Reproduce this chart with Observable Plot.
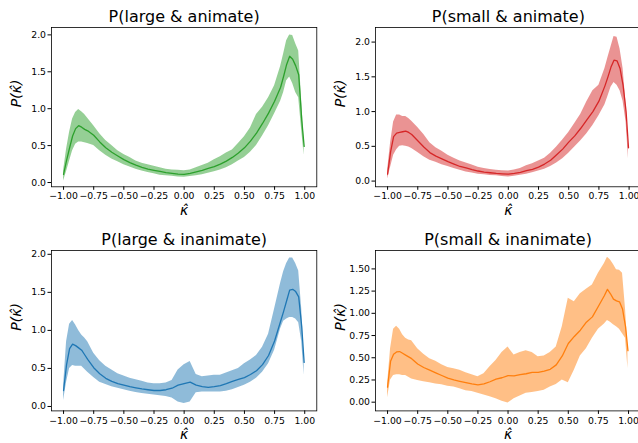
<!DOCTYPE html>
<html>
<head>
<meta charset="utf-8">
<script src="https://cdn.jsdelivr.net/npm/d3@7"></script>
<script src="https://cdn.jsdelivr.net/npm/@observablehq/plot@0.6"></script>
<style>
  html, body { margin: 0; padding: 0; background: #fff; overflow: hidden; }
  #fig { position: relative; width: 638px; height: 443px; overflow: hidden; font-family: "DejaVu Sans", sans-serif; }
  #fig svg { position: absolute; }
</style>
</head>
<body>
<div id="fig"></div>
<script>
// Evaluation grid for the estimated density of kappa-hat
const kappa = [-1, -0.975, -0.95, -0.925, -0.9, -0.875, -0.85, -0.825, -0.8, -0.75, -0.7, -0.65, -0.6, -0.55, -0.5, -0.45, -0.4, -0.35, -0.3, -0.25, -0.2, -0.15, -0.1, -0.05, 0, 0.05, 0.1, 0.15, 0.2, 0.25, 0.3, 0.35, 0.4, 0.45, 0.5, 0.55, 0.6, 0.65, 0.7, 0.75, 0.8, 0.825, 0.85, 0.875, 0.9, 0.925, 0.95, 0.975, 0.995];

// P(large & animate)
const largeAnimateMean = [0.11, 0.30, 0.47, 0.63, 0.73, 0.77, 0.75, 0.72, 0.70, 0.64, 0.55, 0.47, 0.41, 0.36, 0.31, 0.27, 0.235, 0.205, 0.18, 0.165, 0.15, 0.135, 0.125, 0.115, 0.11, 0.125, 0.145, 0.165, 0.19, 0.215, 0.25, 0.29, 0.34, 0.40, 0.47, 0.56, 0.67, 0.80, 0.94, 1.10, 1.29, 1.44, 1.60, 1.71, 1.67, 1.58, 1.46, 0.85, 0.49];
const largeAnimateHigh = [0.16, 0.45, 0.68, 0.86, 0.95, 0.99, 0.96, 0.92, 0.87, 0.77, 0.66, 0.57, 0.50, 0.43, 0.38, 0.34, 0.29, 0.26, 0.24, 0.22, 0.20, 0.18, 0.17, 0.165, 0.16, 0.17, 0.20, 0.23, 0.26, 0.31, 0.35, 0.40, 0.44, 0.53, 0.62, 0.74, 0.92, 1.02, 1.15, 1.31, 1.57, 1.74, 1.92, 2.00, 1.99, 1.88, 1.78, 1.10, 0.56];
const largeAnimateLow = [0.02, 0.15, 0.29, 0.43, 0.52, 0.55, 0.55, 0.54, 0.53, 0.50, 0.43, 0.37, 0.32, 0.28, 0.24, 0.21, 0.18, 0.155, 0.135, 0.12, 0.10, 0.09, 0.085, 0.075, 0.07, 0.08, 0.09, 0.105, 0.125, 0.145, 0.17, 0.20, 0.24, 0.29, 0.34, 0.41, 0.50, 0.63, 0.77, 0.93, 1.10, 1.22, 1.38, 1.43, 1.34, 1.22, 1.15, 0.70, 0.37];

// P(small & animate)
const smallAnimateMean = [0.10, 0.42, 0.64, 0.69, 0.70, 0.71, 0.72, 0.70, 0.67, 0.58, 0.49, 0.41, 0.36, 0.32, 0.28, 0.245, 0.21, 0.19, 0.165, 0.145, 0.13, 0.12, 0.11, 0.105, 0.10, 0.11, 0.125, 0.15, 0.17, 0.20, 0.245, 0.30, 0.38, 0.46, 0.56, 0.65, 0.76, 0.88, 1.00, 1.15, 1.37, 1.50, 1.64, 1.74, 1.73, 1.62, 1.38, 1.00, 0.48];
const smallAnimateHigh = [0.15, 0.55, 0.85, 0.95, 0.95, 0.93, 0.93, 0.90, 0.86, 0.77, 0.67, 0.55, 0.48, 0.43, 0.37, 0.33, 0.29, 0.26, 0.23, 0.20, 0.18, 0.165, 0.155, 0.15, 0.145, 0.16, 0.18, 0.22, 0.25, 0.29, 0.33, 0.40, 0.49, 0.59, 0.70, 0.83, 0.96, 1.14, 1.30, 1.38, 1.62, 1.78, 1.93, 2.08, 2.07, 1.90, 1.62, 1.10, 0.50];
const smallAnimateLow = [0.03, 0.20, 0.37, 0.45, 0.50, 0.51, 0.50, 0.49, 0.47, 0.41, 0.35, 0.30, 0.27, 0.235, 0.21, 0.18, 0.155, 0.13, 0.115, 0.10, 0.09, 0.08, 0.075, 0.065, 0.06, 0.07, 0.085, 0.10, 0.12, 0.145, 0.17, 0.21, 0.26, 0.32, 0.40, 0.49, 0.58, 0.68, 0.80, 0.94, 1.10, 1.22, 1.35, 1.42, 1.38, 1.30, 1.15, 0.85, 0.32];

// P(large & inanimate)
const largeInanimateMean = [0.21, 0.55, 0.76, 0.82, 0.80, 0.77, 0.74, 0.68, 0.62, 0.51, 0.43, 0.37, 0.33, 0.30, 0.28, 0.26, 0.245, 0.23, 0.22, 0.21, 0.21, 0.22, 0.24, 0.28, 0.30, 0.32, 0.28, 0.26, 0.25, 0.26, 0.275, 0.30, 0.33, 0.355, 0.38, 0.42, 0.47, 0.55, 0.67, 0.86, 1.12, 1.25, 1.39, 1.53, 1.54, 1.51, 1.44, 1.05, 0.58];
const largeInanimateHigh = [0.27, 0.85, 1.08, 1.13, 1.07, 1.00, 0.94, 0.90, 0.85, 0.70, 0.60, 0.53, 0.48, 0.43, 0.40, 0.37, 0.35, 0.33, 0.31, 0.30, 0.30, 0.31, 0.34, 0.48, 0.55, 0.59, 0.42, 0.39, 0.40, 0.41, 0.41, 0.44, 0.47, 0.50, 0.56, 0.61, 0.67, 0.78, 0.95, 1.28, 1.62, 1.77, 1.88, 1.95, 1.95, 1.88, 1.78, 1.28, 0.60];
const largeInanimateLow = [0.08, 0.32, 0.50, 0.54, 0.53, 0.53, 0.53, 0.49, 0.45, 0.38, 0.32, 0.29, 0.26, 0.24, 0.22, 0.20, 0.185, 0.17, 0.16, 0.15, 0.14, 0.13, 0.11, 0.06, 0.04, 0.06, 0.18, 0.19, 0.19, 0.19, 0.19, 0.20, 0.22, 0.25, 0.28, 0.32, 0.37, 0.45, 0.56, 0.74, 1.02, 1.12, 1.15, 1.17, 1.17, 1.15, 1.10, 0.85, 0.41];

// P(small & inanimate)
const smallInanimateMean = [0.17, 0.46, 0.54, 0.565, 0.57, 0.55, 0.53, 0.51, 0.49, 0.43, 0.39, 0.36, 0.33, 0.30, 0.27, 0.25, 0.235, 0.22, 0.205, 0.195, 0.205, 0.23, 0.26, 0.275, 0.30, 0.295, 0.31, 0.32, 0.335, 0.335, 0.35, 0.37, 0.42, 0.52, 0.66, 0.74, 0.81, 0.90, 0.96, 1.08, 1.20, 1.27, 1.22, 1.16, 1.14, 1.13, 1.05, 0.85, 0.58];
const smallInanimateHigh = [0.20, 0.60, 0.82, 0.855, 0.82, 0.76, 0.72, 0.70, 0.69, 0.60, 0.54, 0.49, 0.46, 0.42, 0.39, 0.375, 0.36, 0.33, 0.31, 0.285, 0.32, 0.40, 0.47, 0.56, 0.62, 0.53, 0.56, 0.58, 0.56, 0.51, 0.52, 0.56, 0.62, 0.85, 1.17, 1.13, 1.22, 1.27, 1.32, 1.45, 1.56, 1.63, 1.60, 1.55, 1.49, 1.485, 1.45, 1.05, 0.60];
const smallInanimateLow = [0.05, 0.25, 0.30, 0.31, 0.31, 0.30, 0.30, 0.28, 0.26, 0.245, 0.23, 0.22, 0.205, 0.195, 0.18, 0.17, 0.15, 0.13, 0.12, 0.10, 0.08, 0.06, 0.04, 0.01, -0.01, 0.04, 0.07, 0.10, 0.11, 0.12, 0.135, 0.17, 0.20, 0.25, 0.22, 0.36, 0.52, 0.60, 0.72, 0.82, 0.88, 0.92, 0.90, 0.87, 0.85, 0.82, 0.77, 0.72, 0.38];

const xTicks = [-1, -0.75, -0.5, -0.25, 0, 0.25, 0.5, 0.75, 1];
const yTicksWide = [0, 0.5, 1, 1.5, 2];
const yTicksFine = [0, 0.25, 0.5, 0.75, 1, 1.25, 1.5];
const titles = ["P(large & animate)", "P(small & animate)", "P(large & inanimate)", "P(small & inanimate)"];
const colors = ["#2ca02c", "#d62728", "#1f77b4", "#ff7f0e"];

// Subplot layout: frame box in page pixels plus y domain / tick setup
const panels = [
  {title: titles[0], color: colors[0], mean: largeAnimateMean, high: largeAnimateHigh, low: largeAnimateLow,
   left: 50.7, top: 26.7, w: 265.3, h: 159.3, yDomain: [-0.058, 2.1], yTicks: yTicksWide, fmt: ".1f"},
  {title: titles[1], color: colors[1], mean: smallAnimateMean, high: smallAnimateHigh, low: smallAnimateLow,
   left: 374.7, top: 26.7, w: 265.7, h: 159.3, yDomain: [-0.082, 2.21], yTicks: yTicksWide, fmt: ".1f"},
  {title: titles[2], color: colors[2], mean: largeInanimateMean, high: largeInanimateHigh, low: largeInanimateLow,
   left: 50.7, top: 250.3, w: 265.3, h: 160.4, yDomain: [-0.058, 2.05], yTicks: yTicksWide, fmt: ".1f"},
  {title: titles[3], color: colors[3], mean: smallInanimateMean, high: smallInanimateHigh, low: smallInanimateLow,
   left: 375.3, top: 250.3, w: 265.1, h: 160.4, yDomain: [-0.098, 1.707], yTicks: yTicksFine, fmt: ".2f"}
];

const fig = document.getElementById("fig");
const mL = 56, mT = 32, mR = 6, mB = 42;
const hatKappa = "\u03BA\u0302";

for (const p of panels) {
  const rows = kappa.map((k, i) => ({k, mean: p.mean[i], low: p.low[i], high: p.high[i]}));
  const svg = Plot.plot({
    width: p.w + mL + mR,
    height: p.h + mT + mB,
    marginLeft: mL, marginTop: mT, marginRight: mR, marginBottom: mB,
    style: {fontFamily: "DejaVu Sans, sans-serif", fontSize: "9.3px", color: "#000", background: "transparent", overflow: "visible"},
    x: {domain: [-1.1, 1.1], ticks: xTicks, tickFormat: d3.format(".2f"), tickSize: 3.5, tickPadding: 2.5, label: null},
    y: {domain: p.yDomain, ticks: p.yTicks, tickFormat: d3.format(p.fmt), tickSize: 3.5, tickPadding: 2, label: null},
    marks: [
      Plot.areaY(rows, {x: "k", y1: "low", y2: "high", fill: p.color, fillOpacity: 0.5}),
      Plot.lineY(rows, {x: "k", y: "mean", stroke: p.color, strokeWidth: 1.3}),
      Plot.frame({stroke: "#000", strokeWidth: 0.8}),
      Plot.text([p.title], {text: d => d, frameAnchor: "top", lineAnchor: "bottom", dy: -5, fontSize: 16, fill: "#000"}),
      Plot.text([hatKappa], {text: d => d, frameAnchor: "bottom", lineAnchor: "bottom", dy: 28, fontSize: 14, fontStyle: "italic", fill: "#000"}),
      Plot.text(["P(" + hatKappa + ")"], {text: d => d, frameAnchor: "left", lineAnchor: "bottom", rotate: -90, dx: -31, fontSize: 14, fontStyle: "italic", fill: "#000"})
    ]
  });
  svg.style.left = (p.left - mL) + "px";
  svg.style.top = (p.top - mT) + "px";
  fig.appendChild(svg);
}
</script>
</body>
</html>
